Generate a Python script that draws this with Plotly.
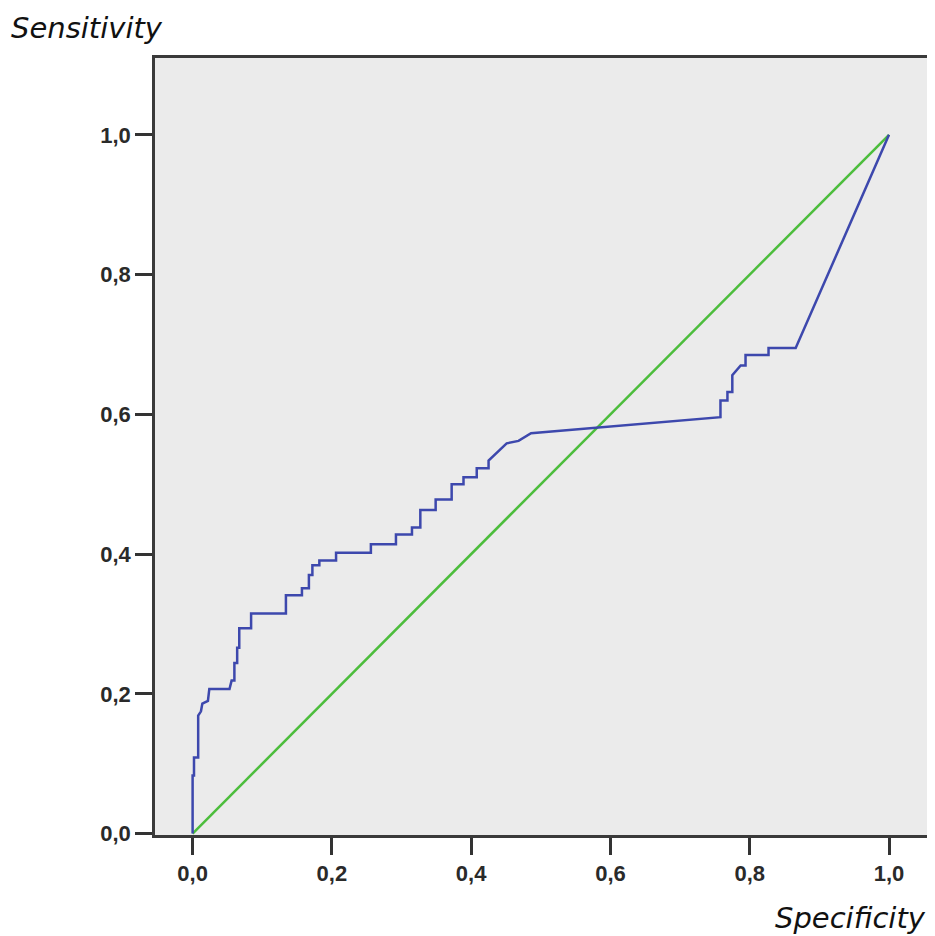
import plotly.graph_objects as go

# ROC curve points (x = "Specificity" axis, y = sensitivity)
roc_x = [0.0, 0.0, 0.002, 0.002, 0.008, 0.008, 0.012, 0.014, 0.022, 0.024, 0.053, 0.056,
         0.060, 0.060, 0.064, 0.064, 0.067, 0.067, 0.084, 0.084, 0.134, 0.134, 0.157, 0.157,
         0.167, 0.167, 0.172, 0.172, 0.182, 0.182, 0.206, 0.206, 0.256, 0.256, 0.292, 0.292,
         0.315, 0.315, 0.327, 0.327, 0.349, 0.349, 0.372, 0.372, 0.389, 0.389, 0.408, 0.408,
         0.425, 0.425, 0.451, 0.468, 0.486, 0.758, 0.758, 0.768, 0.768, 0.775, 0.775, 0.787,
         0.794, 0.794, 0.827, 0.827, 0.866, 1.0]
roc_y = [0.0, 0.083, 0.083, 0.109, 0.109, 0.169, 0.175, 0.186, 0.19, 0.207, 0.207, 0.219,
         0.219, 0.244, 0.244, 0.266, 0.266, 0.294, 0.294, 0.315, 0.315, 0.341, 0.341, 0.351,
         0.351, 0.37, 0.37, 0.384, 0.384, 0.391, 0.391, 0.402, 0.402, 0.414, 0.414, 0.428,
         0.428, 0.438, 0.438, 0.463, 0.463, 0.478, 0.478, 0.5, 0.5, 0.51, 0.51, 0.523,
         0.523, 0.534, 0.5585, 0.562, 0.573, 0.596, 0.62, 0.62, 0.632, 0.632, 0.656, 0.67,
         0.67, 0.685, 0.685, 0.695, 0.695, 1.0]
ref_x = [0.0, 1.0]
ref_y = [0.0, 1.0]
tick_vals = [0.0, 0.2, 0.4, 0.6, 0.8, 1.0]

fig = go.Figure()
fig.add_trace(go.Scatter(x=ref_x, y=ref_y, mode="lines",
                         line=dict(color="#4cbd3c", width=2.5), showlegend=False))
fig.add_trace(go.Scatter(x=roc_x, y=roc_y, mode="lines",
                         line=dict(color="#3d48ad", width=2.5), showlegend=False))

axis_common = dict(
    showgrid=False, zeroline=False, showline=True, linecolor="#3a3a3a", linewidth=2.5,
    mirror=True, ticks="outside", ticklen=17, tickwidth=2.5, tickcolor="#333333",
    tickvals=tick_vals, tickformat=".1f",
    tickfont=dict(family="Liberation Sans, Arial", size=22, color="#2a2a2a", weight="bold"),
)
fig.update_xaxes(range=[-0.054, 1.056], **axis_common)
fig.update_yaxes(range=[-0.002, 1.11], **axis_common)

fig.update_layout(
    width=927, height=928,
    margin=dict(l=147, r=4, t=50, b=101),
    plot_bgcolor="#ebebeb", paper_bgcolor="white",
    separators=",.",
    annotations=[
        dict(text="<i>Sensitivity</i>", xref="paper", yref="paper",
             x=-0.189, y=1.039, xanchor="left", yanchor="middle", showarrow=False,
             font=dict(family="DejaVu Sans", size=29, color="#111111")),
        dict(text="<i>Specificity</i>", xref="paper", yref="paper",
             x=1.0, y=-0.107, xanchor="right", yanchor="middle", showarrow=False,
             font=dict(family="DejaVu Sans", size=29, color="#111111")),
    ],
)

fig.write_html("out.html")
